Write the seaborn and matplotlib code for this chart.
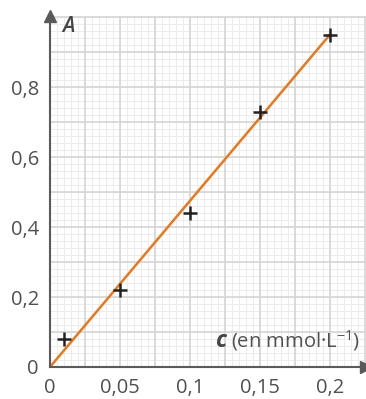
import numpy as np
import matplotlib
matplotlib.use("Agg")
import matplotlib.pyplot as plt
import seaborn as sns

# data
conc = [0.01, 0.05, 0.10, 0.15, 0.20]
absorb = [0.08, 0.22, 0.44, 0.73, 0.95]
fit_x = [0.0, 0.20]
fit_y = [0.0, 0.95]
xticks = [0, 0.05, 0.10, 0.15, 0.20]
xlabels = ["0", "0,05", "0,1", "0,15", "0,2"]
yticks = [0, 0.2, 0.4, 0.6, 0.8]
ylabels = ["0", "0,2", "0,4", "0,6", "0,8"]

sns.set_style("white")
plt.rcParams['font.family'] = ['Open Sans', 'DejaVu Sans']
plt.rcParams['mathtext.fontset'] = 'custom'
plt.rcParams['mathtext.rm'] = 'Open Sans'
plt.rcParams['mathtext.it'] = 'Open Sans:italic'

W, H = 366, 399
fig = plt.figure(figsize=(W / 100, H / 100), dpi=100)
ax = fig.add_axes([50 / W, 32 / H, 316 / W, 351 / H])

xmax, ymax = 0.2257, 1.003
ax.set_xlim(0, xmax)
ax.set_ylim(0, ymax)

# graph paper grid
for v in np.arange(0.005, xmax, 0.005):
    ax.axvline(v, color="#ececec", lw=0.7, zorder=0)
for v in np.arange(0.02, ymax, 0.02):
    ax.axhline(v, color="#ececec", lw=0.7, zorder=0)
for v in np.arange(0.025, xmax, 0.025):
    ax.axvline(v, color="#d6d6d6", lw=1.2, zorder=0.5)
for v in np.arange(0.1, ymax + 0.01, 0.1):
    ax.axhline(v, color="#d6d6d6", lw=1.2, zorder=0.5)

sns.lineplot(x=fit_x, y=fit_y, ax=ax, color="#e8781e", lw=1.8, zorder=3)
sns.scatterplot(x=conc, y=absorb, ax=ax, marker="+", s=105, color="#222222",
                linewidth=1.8, zorder=4)

for s in ["top", "right"]:
    ax.spines[s].set_visible(False)
for s in ["left", "bottom"]:
    ax.spines[s].set_color("#5a5a5a")
    ax.spines[s].set_linewidth(1.5)
    ax.spines[s].set_zorder(5)

ax.set_xticks(xticks)
ax.set_xticklabels(xlabels)
ax.set_yticks(yticks)
ax.set_yticklabels(ylabels)
ax.tick_params(axis="both", direction="out", length=6, width=1.3, color="#5a5a5a",
               labelsize=14.5, labelcolor="#505050", pad=2)
ax.tick_params(axis="x", pad=2)
ax.set_xlabel("")
ax.set_ylabel("")

# arrow heads
ax.plot([0], [1.0], marker="^", color="#5a5a5a", ms=8, clip_on=False,
        transform=ax.transAxes, zorder=6)
ax.plot([1.0], [0], marker=">", color="#5a5a5a", ms=8, clip_on=False,
        transform=ax.transAxes, zorder=6)

# axis names
fig.text(62 / W, 1 - 27 / H, "A", fontsize=15, style="italic", fontweight="semibold",
         color="#454545", va="center", ha="left")
fig.text(216 / W, 1 - 341 / H, "c", fontsize=16.5, style="italic", fontweight="bold",
         color="#454545", va="center", ha="left")
fig.text(231 / W, 1 - 341 / H, "(en mmol·L$^{-1}$)", fontsize=14.5,
         color="#505050", va="center", ha="left")

fig.savefig("out.png", dpi=100)
